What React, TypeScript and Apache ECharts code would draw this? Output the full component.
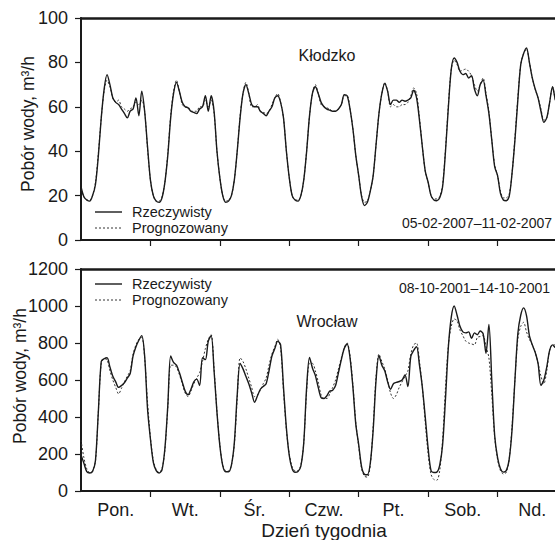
import React, { useEffect, useRef } from "react";
import * as echarts from "echarts";

const dayLabels = ["Pon.", "Wt.", "Śr.", "Czw.", "Pt.", "Sob.", "Nd."];
const dayTicks = [24, 48, 72, 96, 120, 144];
const dayCenters = [12, 36, 60, 84, 108, 132, 156];

// Kłodzko, m3/h, hourly (05-02-2007 – 11-02-2007)
const klodzkoActual = [
  24, 19.5, 18, 17.5, 20, 25, 38, 55, 68, 74.5, 70, 64, 62, 61, 59, 57, 55, 58, 59, 64, 56, 67, 58, 42,
  27, 20, 17.5, 17, 19, 26, 38, 55, 66, 71, 67, 62, 60, 59.5, 58, 57.5, 57, 59, 60, 65, 58, 65, 58, 40,
  28, 20, 17, 17.5, 20, 27, 40, 55, 66, 70, 66, 61, 60, 60, 58, 57, 56, 58, 60, 64, 65, 62, 55, 40,
  28, 20, 18, 17.5, 20, 27, 40, 56, 66, 69, 66, 62, 60, 59, 58.5, 58, 58, 59, 61, 65.5, 65, 59, 50, 38,
  29, 19.5, 15.5, 17, 22, 29, 43, 57, 66, 70.5, 67, 61, 63, 63, 62, 63, 62.5, 63, 64, 67.5, 64, 54, 42, 31,
  26, 20, 18, 17.7, 19, 24, 40, 60, 77, 82, 80, 76, 74.5, 75, 73, 74, 68, 65, 70, 72, 65, 57, 45, 33,
  29, 21, 18, 17.7, 19.5, 30, 45, 63, 79, 84, 86.5, 80, 73, 68, 64, 58, 53, 55, 62, 69, 63, 60,
];
const klodzkoForecast = [
  23, 19.5, 18, 18, 20, 26, 39, 55, 67, 72, 69, 64, 62, 63, 60, 59, 58, 59, 60, 62, 61, 63, 58, 41,
  27, 20, 17.5, 17.5, 19.5, 26, 39, 56, 67, 72, 67, 61, 60, 60, 58, 58, 58, 60, 60, 63, 60, 63, 57, 40,
  28, 20, 17.5, 18, 20, 27, 40, 56, 66, 71, 66, 60, 60, 61, 58, 57.5, 57, 58, 61, 64, 66, 62, 55, 40,
  28, 20, 18, 18, 20, 27, 40, 56, 66, 70, 66, 61, 60, 59.5, 59, 58, 58, 59, 61, 65, 65, 59, 50, 38,
  29, 20, 17, 17.5, 22, 29, 43, 57, 66, 71, 67, 60, 61, 60, 60, 61, 61, 62, 65, 68.5, 66, 55, 42, 31,
  26, 20, 18.5, 18.5, 19.5, 25, 41, 61, 77, 81, 79, 76, 76.5, 77, 76, 74, 70, 67, 70, 73, 66, 58, 45, 34,
  29, 22, 19, 19, 20.5, 30, 46, 64, 79, 84, 86, 80, 73, 68, 64, 59, 54, 55, 62, 69, 63, 60,
];

// Wrocław, m3/h, hourly (08-10-2001 – 14-10-2001)
const wroclawActual = [
  195, 150, 105, 97, 105, 165, 430, 700, 715, 720, 670, 620, 590, 560, 570, 585, 610, 635, 730, 780, 815, 840, 730, 443,
  281, 155, 110, 97, 115, 230, 460, 730, 695, 680, 640, 590, 540, 520, 550, 590, 605, 570, 720, 710, 810, 840, 650, 425,
  245, 137, 104, 104, 140, 260, 520, 690, 660, 620, 580, 530, 480, 515, 550, 565, 580, 650, 730, 770, 810, 790, 560, 340,
  191, 120, 101, 105, 135, 260, 560, 722, 665, 625, 560, 505, 500, 515, 540, 545, 570, 640, 710, 770, 795, 720, 560, 360,
  250, 130, 90, 88, 150, 330, 600, 731, 680, 650, 590, 550, 580, 587, 592, 600, 627, 564, 726, 760, 780, 680, 560, 400,
  230, 110, 100, 102, 140, 250, 500, 780, 940, 1000, 950, 890, 860, 855, 860, 825, 855, 845, 865, 850, 745, 900, 600, 300,
  180, 120, 102, 110, 170, 330, 600, 850, 950, 990, 948, 840, 790, 750, 690, 570, 600, 670, 760, 790, 775, 770,
];
const wroclawForecast = [
  275, 180, 120, 100, 110, 160, 430, 690, 715, 710, 650, 600, 560, 525, 555, 590, 620, 650, 740, 790, 820, 830, 720, 480,
  290, 165, 115, 100, 120, 220, 450, 680, 680, 670, 630, 580, 530, 510, 540, 580, 610, 640, 700, 770, 820, 845, 660, 430,
  250, 140, 110, 108, 140, 250, 500, 720, 700, 660, 610, 560, 510, 520, 545, 580, 610, 680, 740, 780, 820, 770, 540, 330,
  200, 130, 110, 110, 140, 260, 540, 690, 690, 650, 590, 520, 500, 500, 525, 560, 600, 660, 720, 775, 800, 730, 570, 370,
  240, 120, 80, 75, 140, 350, 620, 740, 700, 660, 600, 530, 500, 520, 560, 590, 620, 650, 740, 790, 800, 700, 560, 370,
  200, 90, 62, 58, 110, 280, 560, 790, 890, 930, 920, 870, 840, 810, 800, 795, 790, 830, 835, 840, 780, 720, 520, 290,
  170, 110, 92, 100, 170, 350, 600, 820, 890, 912, 860, 820, 790, 750, 690, 620, 580, 650, 760, 790, 790, 780,
];

const seriesNames = ["Rzeczywisty", "Prognozowany"];
const titles = ["Kłodzko", "Wrocław"];
const periods = ["05-02-2007\u201311-02-2007", "08-10-2001\u201314-10-2001"];
const yAxisName = "Pobór wody, m³/h";
const xAxisName = "Dzień tygodnia";

const FONT = "'Liberation Sans', Arial, Helvetica, sans-serif";
const INK = "#1a1a1a";

const toPairs = (arr: number[]) => arr.map((v, i) => [i, v]);

export default function App() {
  const ref = useRef<HTMLDivElement>(null);

  useEffect(() => {
    if (!ref.current) return;
    const chart = echarts.init(ref.current, undefined, { renderer: "svg" });

    const axisLine = { show: true, onZero: false, lineStyle: { color: INK, width: 2 } };
    const xBase = (gridIndex: number, withLabels: boolean) => ({
      gridIndex,
      type: "value",
      min: 0,
      max: 168,
      axisLine,
      axisTick: { show: true, customValues: dayTicks, length: 6, lineStyle: { color: INK, width: 1.2 } },
      axisLabel: withLabels
        ? {
            show: true,
            customValues: dayCenters,
            formatter: (v: number) => dayLabels[Math.round((v - 12) / 24)] ?? "",
            fontSize: 18,
            color: INK,
            margin: 10,
            fontFamily: FONT,
          }
        : { show: false },
      splitLine: { show: false },
      ...(withLabels
        ? {
            name: xAxisName,
            nameLocation: "middle",
            nameGap: 30,
            nameMoveOverlap: false,
            nameTextStyle: { fontSize: 19, color: INK, fontFamily: FONT },
          }
        : {}),
    });
    const topLine = (gridIndex: number) => ({
      gridIndex,
      type: "value",
      position: "top",
      min: 0,
      max: 168,
      axisLine: { show: true, onZero: false, lineStyle: { color: INK, width: 2.5 } },
      axisTick: { show: false },
      axisLabel: { show: false },
      splitLine: { show: false },
    });
    const yBase = (gridIndex: number, max: number, interval: number) => ({
      gridIndex,
      type: "value",
      min: 0,
      max,
      interval,
      axisLine,
      axisTick: { show: true, length: 6, lineStyle: { color: INK, width: 1.2 } },
      axisLabel: {
        fontSize: 18,
        color: INK,
        margin: 13,
        fontFamily: FONT,
        formatter: (v: number) => String(v),
      },
      splitLine: { show: false },
    });

    const solid = { color: INK, width: 1.4, type: "solid" };
    const dashed = { color: "#333", width: 1, type: [2, 2] };
    const mk = (name: string, data: number[], axis: number, ls: any, z: number) => ({
      name,
      type: "line",
      xAxisIndex: axis,
      yAxisIndex: axis,
      data: toPairs(data),
      symbol: "none",
      smooth: 0.3,
      lineStyle: ls,
      itemStyle: { color: ls.color },
      z,
    });

    const legendGraphic = (y: number) => [
      { type: "line", shape: { x1: 95, y1: y, x2: 122, y2: y }, style: { stroke: INK, lineWidth: 1.4 } },
      {
        type: "text",
        x: 132,
        y,
        style: { text: seriesNames[0], fontSize: 14.5, fill: INK, fontFamily: FONT, verticalAlign: "middle" },
      },
      {
        type: "line",
        shape: { x1: 95, y1: y + 16, x2: 122, y2: y + 16 },
        style: { stroke: "#333", lineWidth: 1, lineDash: [2, 2] },
      },
      {
        type: "text",
        x: 132,
        y: y + 16,
        style: { text: seriesNames[1], fontSize: 14.5, fill: INK, fontFamily: FONT, verticalAlign: "middle" },
      },
    ];

    const yName = (x: number, y: number) => ({
      type: "text",
      x,
      y,
      rotation: Math.PI / 2,
      style: {
        text: yAxisName,
        fontSize: 17.5,
        fill: INK,
        fontFamily: FONT,
        align: "center",
        verticalAlign: "middle",
      },
    });

    chart.setOption({
      animation: false,
      backgroundColor: "#fff",
      textStyle: { fontFamily: FONT },
      grid: [
        { left: 81, top: 18, width: 486, height: 222, outerBoundsMode: "none", containLabel: false },
        { left: 81, top: 269, width: 486, height: 222, outerBoundsMode: "none", containLabel: false },
      ],
      xAxis: [xBase(0, false), xBase(1, true), topLine(0), topLine(1)],
      yAxis: [yBase(0, 100, 20), yBase(1, 1200, 200)],
      series: [
        mk(seriesNames[1], klodzkoForecast, 0, dashed, 2),
        mk(seriesNames[0], klodzkoActual, 0, solid, 3),
        mk(seriesNames[1], wroclawForecast, 1, dashed, 2),
        mk(seriesNames[0], wroclawActual, 1, solid, 3),
      ],
      graphic: [
        yName(28, 124),
        yName(20, 376),
        ...legendGraphic(212),
        ...legendGraphic(284),
        {
          type: "text",
          x: 327,
          y: 55,
          style: { text: titles[0], fontSize: 16, fill: INK, fontFamily: FONT, align: "center", verticalAlign: "middle" },
        },
        {
          type: "text",
          x: 327,
          y: 321,
          style: { text: titles[1], fontSize: 16, fill: INK, fontFamily: FONT, align: "center", verticalAlign: "middle" },
        },
        {
          type: "text",
          x: 552,
          y: 223,
          style: { text: periods[0], fontSize: 14, fill: INK, fontFamily: FONT, align: "right", verticalAlign: "middle" },
        },
        {
          type: "text",
          x: 550,
          y: 288,
          style: { text: periods[1], fontSize: 14, fill: INK, fontFamily: FONT, align: "right", verticalAlign: "middle" },
        },
      ],
    });

    return () => chart.dispose();
  }, []);

  return (
    <div
      ref={ref}
      style={{ position: "fixed", left: 0, top: 0, width: 570, height: 540, background: "#fff" }}
    />
  );
}
